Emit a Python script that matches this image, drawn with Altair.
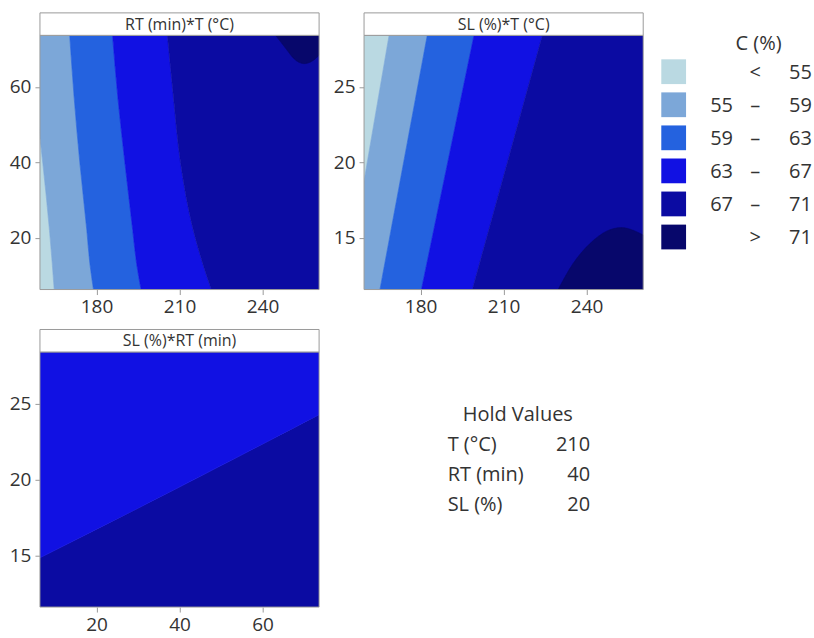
import altair as alt
import pandas as pd

# ---------------- data ----------------
BANDS = ["< 55", "55 – 59", "59 – 63", "63 – 67", "67 – 71", "> 71"]
COLORS = ["#bad9e2", "#7ca7d8", "#2462df", "#1111e3", "#0b0ba2", "#07076b"]

T_RANGE = [159.55, 260.45]
RT_RANGE = [6.36, 73.64]
SL_RANGE = [11.59, 28.41]

T_TICKS = [180, 210, 240]
RT_TICKS = [20, 40, 60]
SL_TICKS = [15, 20, 25]

# Panel 1: RT (min) * T (°C) -- contour boundaries as T at given RT
p1_rt = [6.36, 13.2, 22.0, 39.7, 57.3, 73.64]
p1_t55 = [164.7, 164.0, 163.0, 160.6, 157.8, 155.0]
p1_t59 = [178.9, 177.6, 176.5, 174.0, 171.9, 170.3]
p1_t63 = [196.1, 194.5, 193.1, 190.3, 187.7, 185.8]
p1_t67 = [221.5, 218.4, 215.0, 210.4, 207.8, 205.6]
p1_peak_t = [244.7, 247.1, 248.9, 251.3, 255.0, 258.0, 260.45]
p1_peak_rt = [73.64, 71.4, 69.7, 67.5, 66.15, 66.85, 68.4]

# Panel 2: SL (%) * T (°C) -- boundaries as T at given SL
p2_sl = [11.59, 28.41]
p2_t55 = [152.8, 168.6]
p2_t59 = [165.3, 182.4]
p2_t63 = [180.3, 199.3]
p2_t67 = [198.7, 224.0]
p2_peak_t = [229.7, 235.1, 241.2, 247.2, 252.6, 256.8, 260.45]
p2_peak_sl = [11.59, 13.31, 14.63, 15.45, 15.69, 15.51, 15.2]

# Panel 3: SL (%) * RT (min) -- boundary as SL at given RT
p3_rt = [6.36, 40.0, 73.64]
p3_sl67 = [14.84, 19.5, 24.28]

# Legend and hold values
legend_lo = ["", "55", "59", "63", "67", ""]
legend_sym = ["<", "–", "–", "–", "–", ">"]
legend_hi = ["55", "59", "63", "67", "71", "71"]
hold_names = ["T (°C)", "RT (min)", "SL (%)"]
hold_vals = ["210", "40", "20"]

# ---------------- styling ----------------
W = 279.5
H1 = 254.5
H2 = 255.4
HEAD = 22.5
FONT = "Open Sans"
TXT = "#333333"
GRAY = "#9a9a9a"

color_enc = alt.Color("band:N", scale=alt.Scale(domain=BANDS, range=COLORS), legend=None)
stroke_enc = alt.Stroke("band:N", scale=alt.Scale(domain=BANDS, range=COLORS), legend=None)


def band_table(levels, boundaries, lo_edge, hi_edge, bands):
    edges = [[lo_edge] * len(levels)] + boundaries + [[hi_edge] * len(levels)]
    rows = []
    for k, name in enumerate(bands):
        for j, v in enumerate(levels):
            rows.append({"v": v, "lo": edges[k][j], "hi": edges[k + 1][j], "band": name})
    return pd.DataFrame(rows)


def sc(dom):
    return alt.Scale(domain=dom, nice=False, zero=False)


def frame_layers(title, h):
    d = pd.DataFrame({"t": [title]})
    frame = alt.Chart(d).mark_rect(fillOpacity=0, stroke=GRAY, strokeWidth=1).encode(
        x=alt.value(0), x2=alt.value(W), y=alt.value(0), y2=alt.value(h))
    head = alt.Chart(d).mark_rect(fill="white", stroke=GRAY, strokeWidth=1).encode(
        x=alt.value(0), x2=alt.value(W), y=alt.value(-HEAD), y2=alt.value(0))
    htxt = alt.Chart(d).mark_text(font=FONT, fontSize=16, color=TXT, baseline="middle").encode(
        x=alt.value(W / 2), y=alt.value(-HEAD / 2 + 0.5), text="t:N")
    return [frame, head, htxt]


def hbands(df, xdom, ydom, xticks, yticks):
    return alt.Chart(df).mark_area(orient="horizontal", clip=True, interpolate="monotone",
                                   strokeWidth=0.6).encode(
        y=alt.Y("v:Q", scale=sc(ydom), axis=alt.Axis(values=yticks, title=None)),
        x=alt.X("lo:Q", scale=sc(xdom), axis=alt.Axis(values=xticks, title=None)),
        x2="hi:Q",
        color=color_enc,
        stroke=stroke_enc,
    )


# Panel 1
df1 = band_table(p1_rt, [p1_t55, p1_t59, p1_t63, p1_t67], T_RANGE[0], T_RANGE[1], BANDS[:5])
pk1 = pd.DataFrame({"t": p1_peak_t, "a": p1_peak_rt, "b": RT_RANGE[1], "band": BANDS[5]})
peak1 = alt.Chart(pk1).mark_area(clip=True, interpolate="monotone", strokeWidth=0.6).encode(
    x=alt.X("t:Q", scale=sc(T_RANGE)), y=alt.Y("a:Q", scale=sc(RT_RANGE)), y2="b:Q",
    color=color_enc, stroke=stroke_enc)
p1 = alt.layer(hbands(df1, T_RANGE, RT_RANGE, T_TICKS, RT_TICKS), peak1,
               *frame_layers("RT (min)*T (°C)", H1)).properties(width=W, height=H1)

# Panel 2
df2 = band_table(p2_sl, [p2_t55, p2_t59, p2_t63, p2_t67], T_RANGE[0], T_RANGE[1], BANDS[:5])
pk2 = pd.DataFrame({"t": p2_peak_t, "a": SL_RANGE[0], "b": p2_peak_sl, "band": BANDS[5]})
peak2 = alt.Chart(pk2).mark_area(clip=True, interpolate="monotone", strokeWidth=0.6).encode(
    x=alt.X("t:Q", scale=sc(T_RANGE)), y=alt.Y("a:Q", scale=sc(SL_RANGE)), y2="b:Q",
    color=color_enc, stroke=stroke_enc)
p2 = alt.layer(hbands(df2, T_RANGE, SL_RANGE, T_TICKS, SL_TICKS), peak2,
               *frame_layers("SL (%)*T (°C)", H1)).properties(width=W, height=H1)

# Panel 3
df3 = band_table(p3_rt, [p3_sl67], SL_RANGE[0], SL_RANGE[1], ["67 – 71", "63 – 67"])
area3 = alt.Chart(df3).mark_area(clip=True, interpolate="monotone", strokeWidth=0.6).encode(
    x=alt.X("v:Q", scale=sc(RT_RANGE), axis=alt.Axis(values=RT_TICKS, title=None)),
    y=alt.Y("lo:Q", scale=sc(SL_RANGE), axis=alt.Axis(values=SL_TICKS, title=None)),
    y2="hi:Q", color=color_enc, stroke=stroke_enc)
p3 = alt.layer(area3, *frame_layers("SL (%)*RT (min)", H2)).properties(width=W, height=H2)

# Legend (custom, to keep the column layout of the reference)
leg_df = pd.DataFrame({"band": BANDS, "lo": legend_lo, "sym": legend_sym, "hi": legend_hi})
ly = alt.Y("band:N", sort=BANDS, axis=None,
           scale=alt.Scale(type="point", domain=BANDS, range=[36.4, 201.9], padding=0))
LFS = 20
LDY = 7.3
sw = alt.Chart(leg_df).mark_square(size=615, opacity=1, filled=True).encode(
    x=alt.value(-14.5), y=ly, color=color_enc)
t_lo = alt.Chart(leg_df).mark_text(font=FONT, fontSize=LFS, color=TXT, align="right",
                                   baseline="alphabetic", dy=LDY).encode(
    x=alt.value(44.9), y=ly, text="lo:N")
t_sym = alt.Chart(leg_df).mark_text(font=FONT, fontSize=LFS, color=TXT, align="center",
                                    baseline="alphabetic", dy=LDY).encode(
    x=alt.value(67.2), y=ly, text="sym:N")
t_hi = alt.Chart(leg_df).mark_text(font=FONT, fontSize=LFS, color=TXT, align="right",
                                   baseline="alphabetic", dy=LDY).encode(
    x=alt.value(123.9), y=ly, text="hi:N")
l_title = alt.Chart(pd.DataFrame({"t": ["C (%)"]})).mark_text(
    font=FONT, fontSize=LFS, color=TXT, align="center", baseline="alphabetic").encode(
    x=alt.value(70.5), y=alt.value(14.7), text="t:N")
legend = alt.layer(sw, t_lo, t_sym, t_hi, l_title).properties(width=126, height=H1)

# Hold values
hold_df = pd.DataFrame({"name": hold_names, "val": hold_vals})
hy = alt.Y("name:N", sort=hold_names, axis=None,
           scale=alt.Scale(type="point", domain=hold_names, range=[99.2, 159.0], padding=0))
h_title = alt.Chart(pd.DataFrame({"t": ["Hold Values"]})).mark_text(
    font=FONT, fontSize=LFS, color=TXT, align="center", baseline="alphabetic").encode(
    x=alt.value(153.9), y=alt.value(68.8), text="t:N")
h_names = alt.Chart(hold_df).mark_text(font=FONT, fontSize=LFS, color=TXT, align="left",
                                       baseline="alphabetic").encode(
    x=alt.value(83.7), y=hy, text="name:N")
h_vals = alt.Chart(hold_df).mark_text(font=FONT, fontSize=LFS, color=TXT, align="right",
                                      baseline="alphabetic").encode(
    x=alt.value(226.4), y=hy, text="val:N")
hold = alt.layer(h_names, h_vals, h_title).properties(width=W, height=H2)

chart = alt.concat(p1, p2, legend, p3, hold, columns=3,
                   spacing={"row": 62, "column": 44.5}, bounds="flush").resolve_scale(
    x="independent", y="independent", color="independent", stroke="independent"
).properties(
    padding={"left": 9, "top": 12, "right": 0, "bottom": 6},
    background="white",
).configure_view(stroke=None).configure_axis(
    domain=False, grid=False, ticks=True, tickColor=GRAY, tickSize=5, tickWidth=1,
    labelFont=FONT, labelFontSize=19, labelColor=TXT,
).configure_axisX(labelPadding=3).configure_axisY(labelPadding=4)

chart.save("out.html", embed_options={"renderer": "svg", "actions": False})
